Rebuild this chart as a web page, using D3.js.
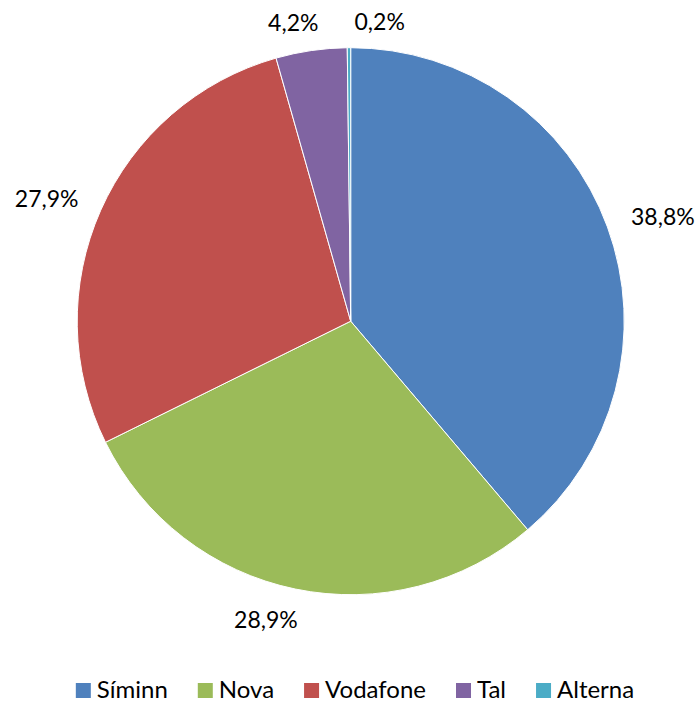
<!DOCTYPE html>
<html>
<head>
<meta charset="utf-8">
<script src="https://cdn.jsdelivr.net/npm/d3@7"></script>
<style>
  body { margin: 0; background: #fff; }
  text { font-family: Lato, "Open Sans", sans-serif; fill: #000; }
</style>
</head>
<body>
<div data-output></div>
<script>
const SIZE = { WIDTH: 699, HEIGHT: 702 };

// chart data
const categories = ['Síminn', 'Nova', 'Vodafone', 'Tal', 'Alterna'];
const shares = [38.8, 28.9, 27.9, 4.2, 0.2];
const labels = ['38,8%', '28,9%', '27,9%', '4,2%', '0,2%'];
const colors = ['#4F81BD', '#9BBB59', '#C0504D', '#8064A2', '#4BACC6'];

// small hand nudges for label placement, like Excel does to avoid overlaps
const labelNudge = [[3, 1], [-18, -1], [-3, 2], [-11, 4], [31, 7]];

const cx = 350.7;
const cy = 321.2;
const radius = 273.5;
const labelGap = 24;

const svg = d3.select('[data-output]').append('svg')
  .attr('width', SIZE.WIDTH)
  .attr('height', SIZE.HEIGHT);

const pie = d3.pie().sort(null).value(d => d);
const arcs = pie(shares);
const arc = d3.arc().innerRadius(0).outerRadius(radius);

const g = svg.append('g')
  .attr('transform', `translate(${cx}, ${cy})`);

g.selectAll('path')
  .data(arcs)
  .join('path')
  .attr('d', arc)
  .attr('fill', (d, i) => colors[i])
  .attr('stroke', '#fff')
  .attr('stroke-width', 1);

// data labels, outside end
const lbl = g.selectAll('text.lbl')
  .data(arcs)
  .join('text')
  .attr('class', 'lbl')
  .attr('font-size', 23)
  .attr('text-anchor', 'middle')
  .attr('dy', '0.36em')
  .text((d, i) => labels[i]);

lbl.each(function(d, i) {
  const a = (d.startAngle + d.endAngle) / 2;
  const w = this.getComputedTextLength();
  const h = 17;
  const rr = radius + labelGap;
  const x = Math.sin(a) * rr + Math.sin(a) * w / 2 + labelNudge[i][0];
  const y = -Math.cos(a) * rr - Math.cos(a) * h / 2 + labelNudge[i][1];
  d3.select(this).attr('x', x).attr('y', y);
});

// legend along the bottom
const legend = svg.append('g');
const sq = 15;
const textGap = 6;
const itemGap = 30;
const baseY = 698;

let xPos = 0;
categories.forEach((c, i) => {
  const item = legend.append('g').attr('transform', `translate(${xPos}, 0)`);
  item.append('rect')
    .attr('x', 0)
    .attr('y', baseY - sq)
    .attr('width', sq)
    .attr('height', sq)
    .attr('fill', colors[i]);
  const t = item.append('text')
    .attr('x', sq + textGap)
    .attr('y', baseY)
    .attr('font-size', 24)
    .text(c);
  xPos += sq + textGap + t.node().getComputedTextLength() + itemGap;
});
const legendW = xPos - itemGap;
legend.attr('transform', `translate(${355 - legendW / 2}, 0)`);
</script>
</body>
</html>
